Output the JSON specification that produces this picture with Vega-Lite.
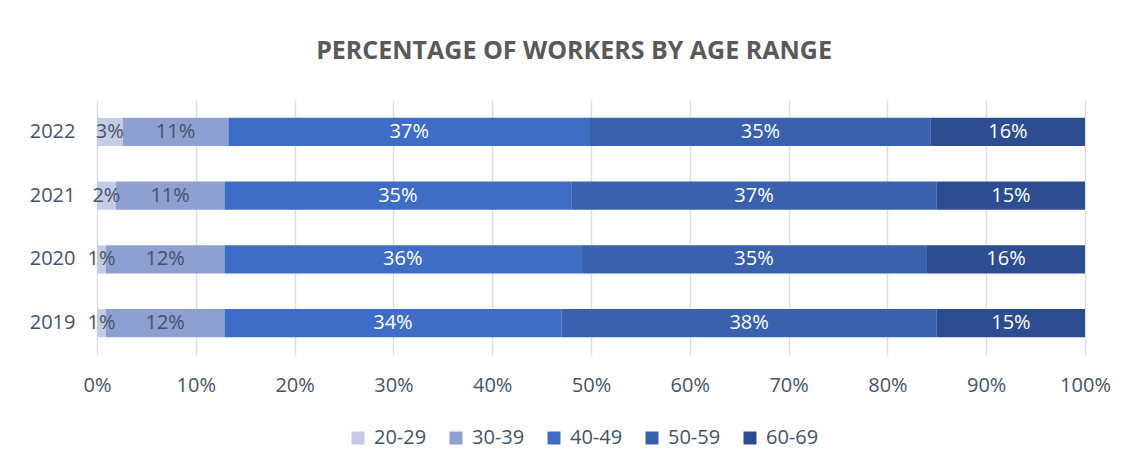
{
  "$schema": "https://vega.github.io/schema/vega-lite/v6.json",
  "autosize": {"type": "none"},
  "width": 988,
  "height": 255,
  "padding": {"left": 97, "top": 100, "right": 46, "bottom": 115},
  "background": "white",
  "title": {
    "text": "PERCENTAGE OF WORKERS BY AGE RANGE",
    "font": "Open Sans",
    "fontSize": 25,
    "fontWeight": "bold",
    "color": "#595959",
    "anchor": "middle",
    "dx": -17,
    "offset": 36
  },
  "data": {
    "values": [
      {"year": "2022", "age": "20-29", "pct": 0.026},
      {"year": "2022", "age": "30-39", "pct": 0.107},
      {"year": "2022", "age": "40-49", "pct": 0.366},
      {"year": "2022", "age": "50-59", "pct": 0.345},
      {"year": "2022", "age": "60-69", "pct": 0.156},
      {"year": "2021", "age": "20-29", "pct": 0.019},
      {"year": "2021", "age": "30-39", "pct": 0.110},
      {"year": "2021", "age": "40-49", "pct": 0.351},
      {"year": "2021", "age": "50-59", "pct": 0.370},
      {"year": "2021", "age": "60-69", "pct": 0.150},
      {"year": "2020", "age": "20-29", "pct": 0.009},
      {"year": "2020", "age": "30-39", "pct": 0.120},
      {"year": "2020", "age": "40-49", "pct": 0.361},
      {"year": "2020", "age": "50-59", "pct": 0.350},
      {"year": "2020", "age": "60-69", "pct": 0.160},
      {"year": "2019", "age": "20-29", "pct": 0.009},
      {"year": "2019", "age": "30-39", "pct": 0.120},
      {"year": "2019", "age": "40-49", "pct": 0.341},
      {"year": "2019", "age": "50-59", "pct": 0.380},
      {"year": "2019", "age": "60-69", "pct": 0.150}
    ]
  },
  "encoding": {
    "y": {
      "field": "year",
      "type": "nominal",
      "sort": ["2022", "2021", "2020", "2019"],
      "scale": {"paddingInner": 0.56, "paddingOuter": 0.28},
      "axis": {
        "title": null,
        "domain": false,
        "ticks": false,
        "tickSize": 0,
        "labelPadding": 22,
        "labelFont": "Open Sans",
        "labelFontSize": 20,
        "labelColor": "#44546A",
        "grid": false
      }
    }
  },
  "layer": [
    {
      "mark": {"type": "bar"},
      "encoding": {
        "x": {
          "field": "pct",
          "type": "quantitative",
          "stack": "normalize",
          "scale": {"domain": [0, 1], "nice": false},
          "axis": {
            "title": null,
            "format": ".0%",
            "values": [0, 0.1, 0.2, 0.3, 0.4, 0.5, 0.6, 0.7, 0.8, 0.9, 1],
            "domain": false,
            "ticks": false,
            "tickSize": 0,
            "labelPadding": 20,
            "labelFlush": false,
            "labelBound": false,
            "labelOverlap": false,
            "labelFont": "Open Sans",
            "labelFontSize": 20,
            "labelColor": "#44546A",
            "grid": true,
            "gridColor": "#D9DDE6",
            "gridWidth": 1.5
          }
        },
        "color": {
          "field": "age",
          "type": "nominal",
          "scale": {
            "domain": ["20-29", "30-39", "40-49", "50-59", "60-69"],
            "range": ["#C5CBE5", "#8E9FD2", "#3F6DC6", "#3A61AE", "#2E4C90"]
          },
          "legend": {
            "title": null,
            "orient": "none",
            "direction": "horizontal",
            "legendX": 251,
            "legendY": 328,
            "symbolType": "square",
            "symbolSize": 169,
            "symbolStrokeWidth": 0,
            "labelFont": "Open Sans",
            "labelFontSize": 20,
            "labelColor": "#44546A",
            "labelOffset": 6,
            "columnPadding": 19
          }
        },
        "order": {"field": "age", "sort": "ascending"}
      }
    },
    {
      "mark": {"type": "text", "font": "Open Sans", "fontSize": 20, "baseline": "middle", "align": "center"},
      "encoding": {
        "x": {"field": "pct", "type": "quantitative", "stack": "normalize", "bandPosition": 0.5},
        "detail": {"field": "age", "type": "nominal"},
        "order": {"field": "age", "sort": "ascending"},
        "text": {"field": "pct", "type": "quantitative", "format": ".0%"},
        "color": {
          "condition": {"test": "datum.age == '20-29' || datum.age == '30-39'", "value": "#44546A"},
          "value": "#FFFFFF"
        }
      }
    }
  ],
  "config": {"view": {"stroke": null}}
}
